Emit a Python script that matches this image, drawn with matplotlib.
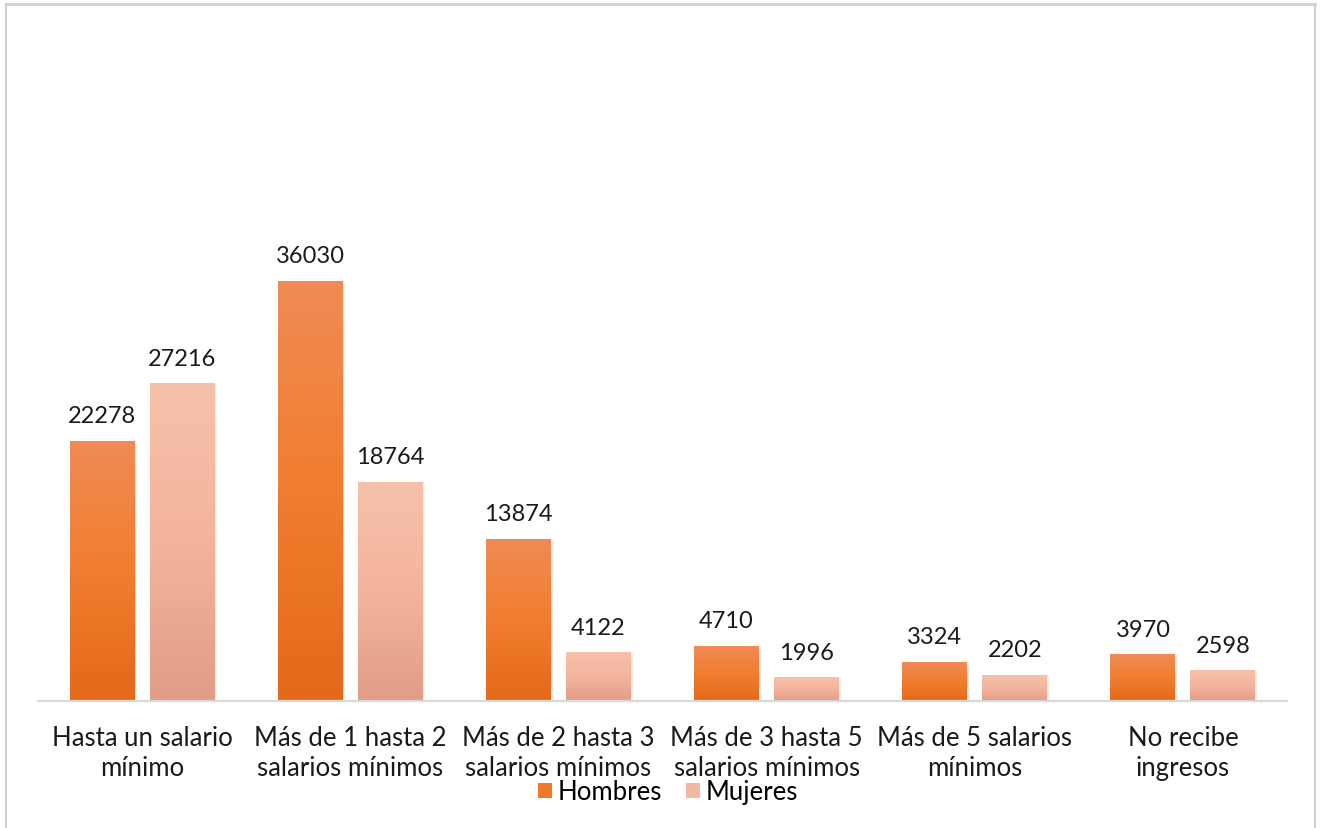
import numpy as np
import matplotlib.pyplot as plt
from matplotlib.colors import LinearSegmentedColormap
from matplotlib.patches import Patch
from matplotlib.lines import Line2D

categorias = ["Hasta un salario\nmínimo", "Más de 1 hasta 2\nsalarios mínimos",
              "Más de 2 hasta 3\nsalarios mínimos", "Más de 3 hasta 5\nsalarios mínimos",
              "Más de 5 salarios\nmínimos", "No recibe\ningresos"]
hombres = [22278, 36030, 13874, 4710, 3324, 3970]
mujeres = [27216, 18764, 4122, 1996, 2202, 2598]

plt.rcParams['font.family'] = ['Lato', 'DejaVu Sans']

W, H = 1321, 829
fig = plt.figure(figsize=(W / 100, H / 100), dpi=100)
ax = fig.add_axes([38 / W, 1 - 702 / H, (1287 - 38) / W, (702 - 236) / H])

# degradados verticales de cada serie (arriba claro, abajo oscuro)
cm_h = LinearSegmentedColormap.from_list('h', ['#E4691A', '#F27D2E', '#EF8B55'])
cm_m = LinearSegmentedColormap.from_list('m', ['#E09D88', '#F4B49C', '#F6C1AB'])
grad = np.linspace(0, 1, 256).reshape(-1, 1)

x = np.arange(len(categorias))
ancho = 0.312
sep = 0.192

def barras(pos, valores, cmap):
    for xi, v in zip(pos, valores):
        x0, x1 = xi - ancho / 2, xi + ancho / 2
        # sombra ligera
        ax.add_patch(plt.Rectangle((x0 + 0.008, 0), ancho, v, color='#000000',
                                   alpha=0.07, lw=0, zorder=1))
        ax.imshow(grad, extent=[x0, x1, 0, v], origin='lower', aspect='auto',
                  cmap=cmap, zorder=2)
        ax.text(xi, v + 1300, str(v), ha='center', va='bottom', fontsize=17,
                color='#1a1a1a')

barras(x - sep, hombres, cm_h)
barras(x + sep, mujeres, cm_m)

ax.set_xlim(-0.5, len(categorias) - 0.5)
ax.set_ylim(0, 40000)
ax.set_xticks(x, categorias, fontsize=18.5, color='#1a1a1a', linespacing=1.25)
ax.tick_params(axis='x', length=0, pad=17)
ax.set_yticks([])
for s in ['top', 'right', 'left']:
    ax.spines[s].set_visible(False)
ax.spines['bottom'].set_color('#D9D9D9')
ax.spines['bottom'].set_linewidth(1.6)

handles = [Patch(facecolor='#F07A2A', label='Hombres'),
           Patch(facecolor='#F4B8A0', label='Mujeres')]
fig.legend(handles=handles, loc='center', bbox_to_anchor=(668 / W, 1 - 793 / H),
           ncol=2, frameon=False, fontsize=18.5, handlelength=0.55, handleheight=0.55,
           handletextpad=0.25, columnspacing=0.9, borderpad=0)

# marco exterior
gris = '#D0D0D0'
fig.add_artist(Line2D([6 / W, 1315 / W], [1 - 5 / H, 1 - 5 / H], color=gris, lw=2))
fig.add_artist(Line2D([6 / W, 6 / W], [0, 1 - 5 / H], color=gris, lw=1.5))
fig.add_artist(Line2D([1315 / W, 1315 / W], [0, 1 - 5 / H], color=gris, lw=1.5))

fig.savefig('out.png', dpi=100)
